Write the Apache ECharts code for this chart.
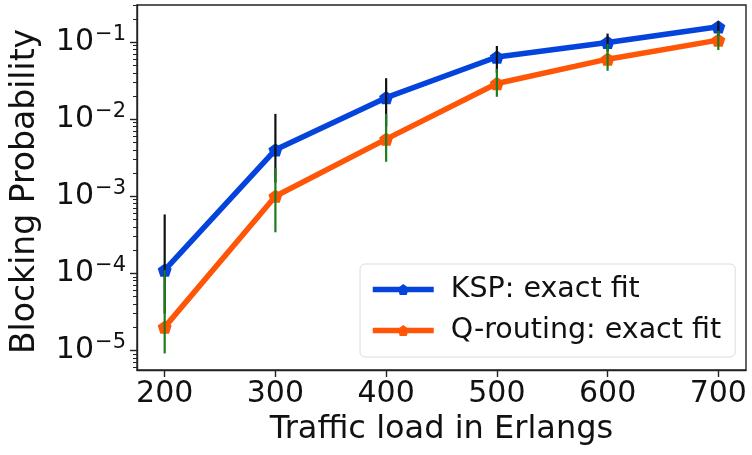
<!DOCTYPE html>
<html>
<head>
<meta charset="utf-8">
<script src="https://cdn.jsdelivr.net/npm/echarts@6/dist/echarts.min.js"></script>
<style>
  html, body { margin: 0; padding: 0; background: #fff; }
  #chart { width: 752px; height: 455px; }
</style>
</head>
<body>
<div id="chart"></div>
<script>
// Traffic loads (Erlangs) on the x axis
const loads = [200, 300, 400, 500, 600, 700];

// KSP: exact fit — blocking probability and error-bar bounds
const kspBlocking = [1.1e-4, 4.0e-3, 1.9e-2, 6.4e-2, 9.9e-2, 1.58e-1];
const kspLower    = [3.0e-5, 1.5e-3, 8.0e-3, 4.0e-2, 7.5e-2, 1.2e-1];
const kspUpper    = [5.8e-4, 1.17e-2, 3.4e-2, 8.9e-2, 1.29e-1, 1.85e-1];

// Q-routing: exact fit — blocking probability and error-bar bounds
const qBlocking = [2.0e-5, 1.0e-3, 5.5e-3, 2.9e-2, 6.0e-2, 1.06e-1];
const qLower    = [9.1e-6, 3.4e-4, 2.8e-3, 1.95e-2, 4.25e-2, 7.9e-2];
const qUpper    = [1.1e-4, 2.3e-3, 1.17e-2, 4.5e-2, 9.5e-2, 1.4e-1];

// Axis ticks
const xTicks = [200, 300, 400, 500, 600, 700];
const yMajorTicks = [1e-5, 1e-4, 1e-3, 1e-2, 1e-1];
const yMinorTicks = [];
for (let e = -6; e <= -1; e++) {
  for (let m = 2; m <= 9; m++) yMinorTicks.push(m * Math.pow(10, e));
}

const xMin = 175, xMax = 725;
const yMin = 5.55e-6, yMax = 0.303;

const FONT = 'DejaVu Sans';
const KSP_COLOR = '#0444dc';
const Q_COLOR = '#ff5506';
const PENTAGON = 'path://M0,-1L0.951,-0.309L0.588,0.809L-0.588,0.809L-0.951,-0.309Z';

function powerLabel(v) {
  const e = Math.round(Math.log10(v));
  const exp = String(e).replace('-', '\u2212');
  return '{b|10}{s|' + exp + '}';
}

function errorBarSeries(name, lower, upper, color, z) {
  return {
    type: 'custom',
    name: name,
    z: z,
    clip: false,
    silent: true,
    data: loads.map((x, i) => [x, lower[i], upper[i]]),
    encode: { x: 0, y: [1, 2] },
    renderItem: function (params, api) {
      const p1 = api.coord([api.value(0), api.value(1)]);
      const p2 = api.coord([api.value(0), api.value(2)]);
      return {
        type: 'line',
        shape: { x1: p1[0], y1: p1[1], x2: p2[0], y2: p2[1] },
        style: { stroke: color, lineWidth: 2.2 }
      };
    }
  };
}

const chart = echarts.init(document.getElementById('chart'), null, { renderer: 'canvas' });

chart.setOption({
  animation: false,
  backgroundColor: '#fff',
  textStyle: { fontFamily: FONT },
  grid: {
    left: 137, top: 5, width: 609, height: 365,
    show: true, borderColor: '#222', borderWidth: 1.4, backgroundColor: 'transparent'
  },
  xAxis: {
    type: 'value',
    min: xMin, max: xMax,
    name: 'Traffic load in Erlangs',
    nameLocation: 'middle',
    nameGap: 43,
    nameTextStyle: { fontSize: 32, color: '#111', fontFamily: FONT },
    axisLine: { show: true, lineStyle: { color: '#222', width: 1.4 } },
    axisTick: { show: true, length: 7, lineStyle: { color: '#222', width: 1.4 }, customValues: xTicks },
    axisLabel: { fontSize: 30, color: '#111', margin: 9, fontFamily: FONT, customValues: xTicks },
    splitLine: { show: false }
  },
  yAxis: [
    {
      type: 'log',
      logBase: 10,
      min: yMin, max: yMax,
      name: 'Blocking Probability',
      nameLocation: 'middle',
      nameGap: 95,
      nameTextStyle: { fontSize: 33, color: '#111', fontFamily: FONT, padding: [0, 8, 0, 0] },
      axisLine: { show: true, lineStyle: { color: '#222', width: 1.4 } },
      axisTick: { show: true, length: 7, lineStyle: { color: '#222', width: 1.4 }, customValues: yMajorTicks },
      axisLabel: {
        margin: 11,
        customValues: yMajorTicks,
        formatter: powerLabel,
        rich: {
          b: { fontSize: 30, color: '#111', fontFamily: FONT, lineHeight: 36 },
          s: { fontSize: 21, color: '#111', fontFamily: FONT, verticalAlign: 'top', lineHeight: 36, padding: [0, 0, 0, 1] }
        }
      },
      splitLine: { show: false }
    },
    {
      // minor ticks between decades
      type: 'log',
      logBase: 10,
      min: yMin, max: yMax,
      position: 'left',
      axisLine: { show: false },
      axisTick: { show: true, length: 4, lineStyle: { color: '#222', width: 1 }, customValues: yMinorTicks },
      axisLabel: { show: false },
      splitLine: { show: false }
    }
  ],
  legend: {
    orient: 'vertical',
    left: 360, top: 264,
    width: 372,
    padding: [11, 14, 12, 10],
    itemGap: 12,
    itemWidth: 61, itemHeight: 14,
    backgroundColor: '#fff',
    borderColor: '#dcdcdc', borderWidth: 1, borderRadius: 5,
    lineStyle: { width: 5.5 },
    textStyle: { fontSize: 28.5, color: '#111', fontFamily: FONT, padding: [0, 0, 0, 12] },
    data: ['KSP: exact fit', 'Q-routing: exact fit']
  },
  series: [
    {
      type: 'line',
      name: 'KSP: exact fit',
      data: loads.map((x, i) => [x, kspBlocking[i]]),
      z: 2,
      symbol: PENTAGON, symbolSize: 14, symbolKeepAspect: true,
      lineStyle: { color: KSP_COLOR, width: 5.5 },
      itemStyle: { color: KSP_COLOR },
      showSymbol: true
    },
    {
      type: 'line',
      name: 'Q-routing: exact fit',
      data: loads.map((x, i) => [x, qBlocking[i]]),
      z: 2,
      symbol: PENTAGON, symbolSize: 14, symbolKeepAspect: true,
      lineStyle: { color: Q_COLOR, width: 5.5 },
      itemStyle: { color: Q_COLOR },
      showSymbol: true
    },
    errorBarSeries('KSP error', kspLower, kspUpper, '#111', 3),
    errorBarSeries('Q-routing error', qLower, qUpper, '#1b7d1b', 4)
  ]
});
</script>
</body>
</html>
